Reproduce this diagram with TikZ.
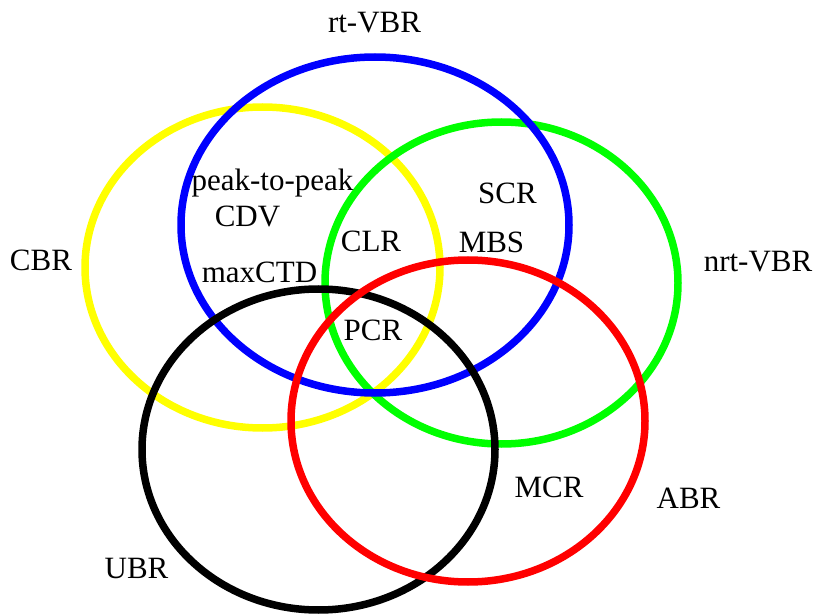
\documentclass[tikz,border=0pt]{standalone}
\usepackage{fontspec}
\setmainfont{Liberation Serif}
\definecolor{vyellow}{RGB}{255,255,0}
\definecolor{vgreen}{RGB}{0,255,0}
\definecolor{vblue}{RGB}{0,0,255}
\definecolor{vred}{RGB}{255,0,0}
\begin{document}
\begin{tikzpicture}[x=1pt,y=-1pt,
  ring/.style={line width=7.5pt},
  lbl/.style={anchor=base,inner sep=0pt,font=\fontsize{31}{37}\selectfont}]
\useasboundingbox (0,0) rectangle (815,615);
% service categories as ellipses
\draw[ring,vyellow] (262.5,267.5) ellipse [x radius=177.5, y radius=160.5];
\draw[ring,vgreen]  (501.5,283)   ellipse [x radius=176.5, y radius=161];
\draw[ring,vblue]   (375,225)     ellipse [x radius=194,   y radius=168];
\draw[ring,black]   (318.5,449.5) ellipse [x radius=176.5, y radius=160.5];
\draw[ring,vred]    (468,421)     ellipse [x radius=177,   y radius=161];
% category names
\node[lbl] (rtvbr)  at (374.5,33)  {rt-VBR};
\node[lbl] (cbr)    at (41,271)    {CBR};
\node[lbl] (nrtvbr) at (758,272)   {nrt-VBR};
\node[lbl] (abr)    at (688.5,508) {ABR};
\node[lbl] (ubr)    at (136.5,578) {UBR};
% traffic parameters
\node[lbl] (ptp)    at (272.5,191) {peak-to-peak};
\node[lbl] (cdv)    at (247.5,227) {CDV};
\node[lbl] (scr)    at (507.5,204) {SCR};
\node[lbl] (clr)    at (371,252)   {CLR};
\node[lbl] (mbs)    at (491.5,253) {MBS};
\node[lbl] (ctd)    at (259.5,283) {maxCTD};
\node[lbl] (pcr)    at (373,341)   {PCR};
\node[lbl] (mcr)    at (549,497)   {MCR};
\end{tikzpicture}
\end{document}
